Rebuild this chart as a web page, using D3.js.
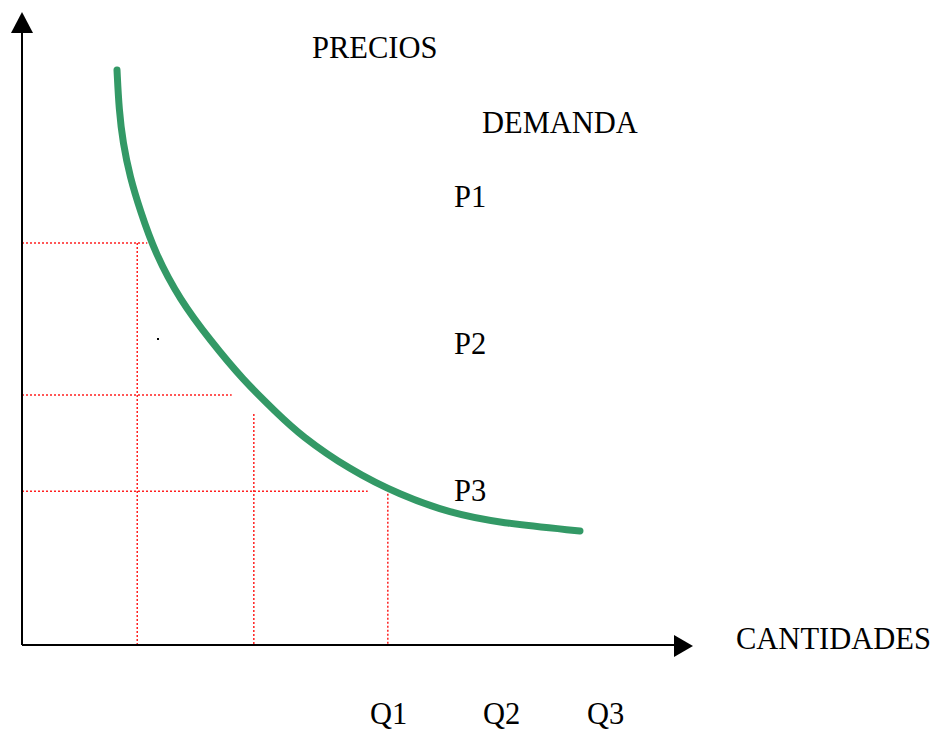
<!DOCTYPE html>
<html>
<head>
<meta charset="utf-8">
<script src="https://cdn.jsdelivr.net/npm/d3@7"></script>
<style>
  html, body { margin: 0; padding: 0; background: #fff; }
  svg { display: block; }
  text { font-family: "Liberation Serif", "Times New Roman", serif; fill: #000; }
</style>
</head>
<body>
<svg id="chart" width="939" height="731"></svg>
<script>
// =========================
// DADES
// =========================

// corba de demanda: [quantitat, preu]
const demandCurve = [
  [1.418, 9.084], [1.448, 8.452], [1.507, 7.930], [1.612, 7.393],
  [1.761, 6.872], [1.985, 6.193], [2.358, 5.450], [2.806, 4.818],
  [3.299, 4.186], [3.806, 3.665], [4.149, 3.318], [4.896, 2.765],
  [5.642, 2.370], [6.388, 2.085], [7.134, 1.927], [8.328, 1.801]
];

// nivells de preu i quantitat (línies de punts)
const priceLevels = [6.35, 3.95, 2.43];
const priceLineEnds = [1.87, 3.13, 5.16];
const quantityLevels = [1.72, 3.46, 5.46];
const quantityLineTops = [6.35, 3.65, 2.39];

const priceLabels = ["P1", "P2", "P3"];
const quantityLabels = ["Q1", "Q2", "Q3"];

// =========================
// ESCALES
// =========================

const svg = d3.select("#chart");

const x = d3.scaleLinear().domain([0, 10]).range([22, 692]);
const y = d3.scaleLinear().domain([0, 10]).range([645, 12]);

// =========================
// EIXOS
// =========================

function drawAxes() {
  svg.append("line")
    .attr("x1", x(0)).attr("y1", y(0))
    .attr("x2", x(0)).attr("y2", 30)
    .attr("stroke", "#000").attr("stroke-width", 2);

  svg.append("path")
    .attr("d", `M${x(0)},12 L${x(0) - 11},33 L${x(0) + 11},33 Z`)
    .attr("fill", "#000");

  svg.append("line")
    .attr("x1", x(0)).attr("y1", y(0))
    .attr("x2", 676).attr("y2", y(0))
    .attr("stroke", "#000").attr("stroke-width", 2);

  svg.append("path")
    .attr("d", `M693,${y(0) + 1} L674,${y(0) - 10} L674,${y(0) + 12} Z`)
    .attr("fill", "#000");
}

// =========================
// LÍNIES DE PUNTS
// =========================

function drawGuides() {
  const g = svg.append("g")
    .attr("stroke", "#ff2020")
    .attr("stroke-width", 1.5)
    .attr("stroke-dasharray", "2,2");

  priceLevels.forEach((p, i) => {
    g.append("line")
      .attr("x1", x(0)).attr("y1", y(p))
      .attr("x2", x(priceLineEnds[i])).attr("y2", y(p));
  });

  quantityLevels.forEach((q, i) => {
    g.append("line")
      .attr("x1", x(q)).attr("y1", y(quantityLineTops[i]))
      .attr("x2", x(q)).attr("y2", y(0));
  });
}

// =========================
// CORBA
// =========================

function drawCurve() {
  const line = d3.line()
    .x(d => x(d[0]))
    .y(d => y(d[1]))
    .curve(d3.curveBasis);

  svg.append("path")
    .datum(demandCurve)
    .attr("d", line)
    .attr("fill", "none")
    .attr("stroke", "#339966")
    .attr("stroke-width", 7)
    .attr("stroke-linecap", "round");
}

// =========================
// TEXTOS
// =========================

function drawLabels() {
  const fs = "30.5px";

  svg.append("text").attr("x", 312).attr("y", 58).text("PRECIOS").style("font-size", fs);
  svg.append("text").attr("x", 482).attr("y", 133).text("DEMANDA").style("font-size", fs);
  svg.append("text").attr("x", 736).attr("y", 649).text("CANTIDADES").style("font-size", fs);

  const pY = [207, 354, 501];
  priceLabels.forEach((t, i) => {
    svg.append("text").attr("x", 454).attr("y", pY[i]).text(t).style("font-size", fs);
  });

  const qX = [370, 483, 587];
  quantityLabels.forEach((t, i) => {
    svg.append("text").attr("x", qX[i]).attr("y", 724).text(t).style("font-size", fs);
  });

  // punt solt
  svg.append("rect")
    .attr("x", 157).attr("y", 338)
    .attr("width", 2).attr("height", 2)
    .attr("fill", "#000");
}

drawGuides();
drawAxes();
drawCurve();
drawLabels();
</script>
</body>
</html>
